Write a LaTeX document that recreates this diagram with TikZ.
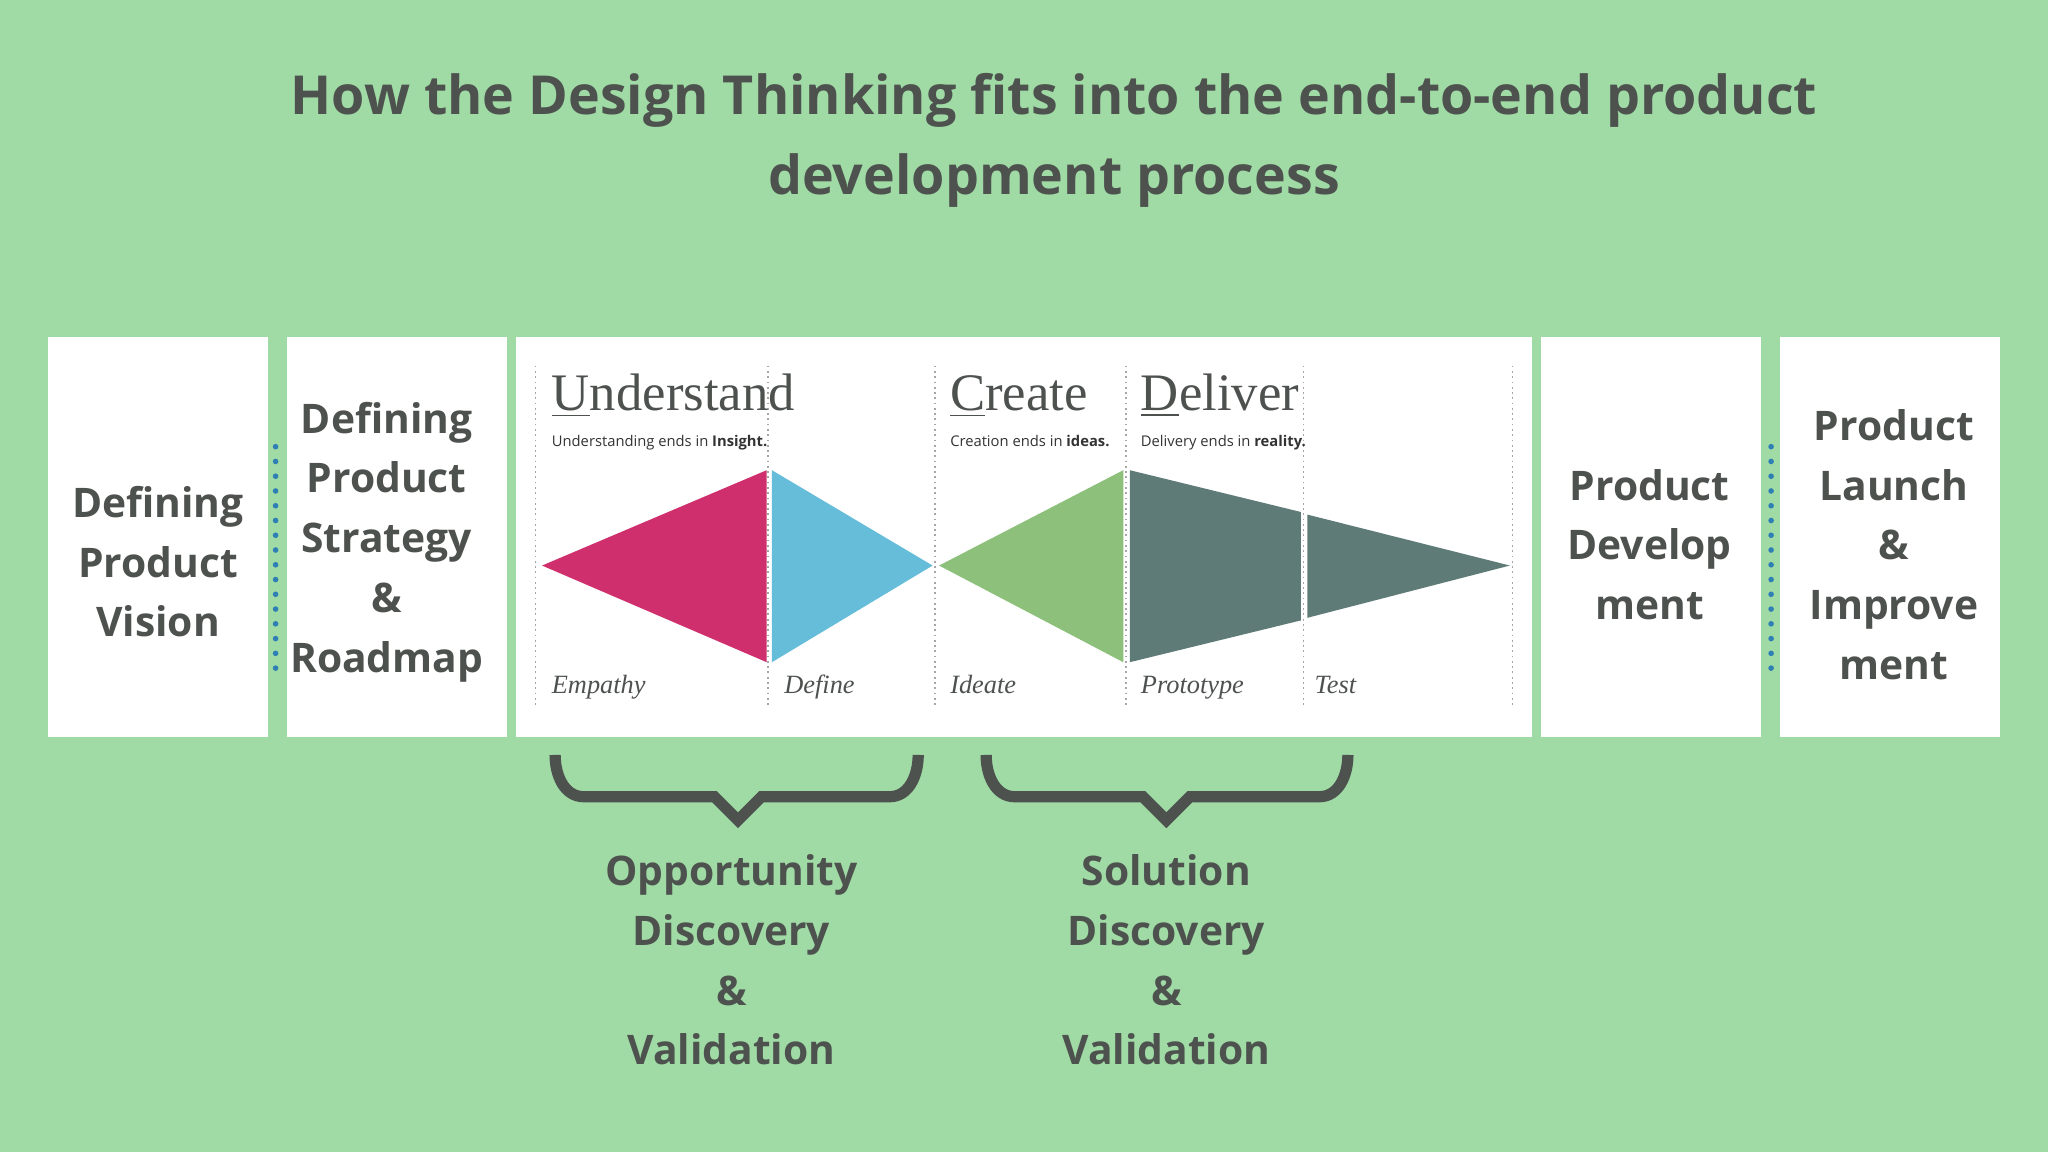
\documentclass[tikz,border=0pt]{standalone}
\usepackage{fontspec}
\setmainfont{Open Sans}
\newfontfamily\serifx{Liberation Serif}
\begin{document}
\begin{tikzpicture}[x=0.013061cm,y=-0.013061cm]
\definecolor{bg}{HTML}{A0DBA6}
\definecolor{tx}{HTML}{4E524F}
\definecolor{mag}{HTML}{CF2F6C}
\definecolor{sky}{HTML}{66BDD9}
\definecolor{grn}{HTML}{8DC07A}
\definecolor{slate}{HTML}{5F7B77}
\definecolor{dblue}{HTML}{2F7FB5}
\tikzset{
 box/.style={fill=white,draw=none},
 boxtxt/.style={text=tx,font=\fontsize{11.6}{17}\selectfont\bfseries,align=center},
 head/.style={text=tx,font=\serifx\fontsize{15}{16}\selectfont,anchor=base west,inner sep=0pt},
 sub/.style={text=black!80,font=\fontsize{4.2}{6}\selectfont,anchor=base west,inner sep=0pt},
 lab/.style={text=tx,font=\serifx\itshape\fontsize{7.5}{9}\selectfont,anchor=base west,inner sep=0pt},
 vdot/.style={gray!70,densely dotted,line width=0.5pt},
 bdot/.style={dblue,line width=1.6pt,line cap=round,dash pattern=on 0pt off 4.2pt},
 brace/.style={tx,line width=3.2pt,line join=miter}
}
\fill[bg] (0,0) rectangle (1568,882);
\node[text=tx,font=\fontsize{15.3}{24}\selectfont\bfseries] (t1) at (807,77) {How the Design Thinking fits into the end-to-end product};
\node[text=tx,font=\fontsize{15.3}{24}\selectfont\bfseries] (t2) at (807,138) {development process};
\fill[box] (37,258) rectangle (205,564);
\fill[box] (220,258) rectangle (388,564);
\fill[box] (395,258) rectangle (1173,564);
\fill[box] (1180,258) rectangle (1348,564);
\fill[box] (1363,258) rectangle (1531,564);
\node[boxtxt] (b1) at (121,430) {Defining\\Product\\Vision};
\node[boxtxt] (b2) at (296,415) {Defining\\Product\\Strategy\\\&\\Roadmap};
\node[boxtxt] (b4) at (1263,417) {Product\\Develop\\ment};
\node[boxtxt] (b5) at (1450,417) {Product\\Launch\\\&\\Improve\\ment};
\draw[bdot] (211,342) -- (211,522);
\draw[bdot] (1356,342) -- (1356,522);
\foreach \x in {410,588,716,862,998,1158} \draw[vdot] (\x,280) -- (\x,542);
\fill[mag] (415,433) -- (587,360) -- (587,507) -- cycle;
\fill[sky] (591,360) -- (714,433) -- (591,507) -- cycle;
\fill[grn] (719,433) -- (860,360) -- (860,507) -- cycle;
\fill[slate] (865,360) -- (996,392) -- (996,475) -- (865,507) -- cycle;
\fill[slate] (1001,394) -- (1156,433) -- (1001,473) -- cycle;
\node[head] (h1) at (422,314) {\underline{U}nderstand};
\node[head] (h2) at (727,314) {\underline{C}reate};
\node[head] (h3) at (873,314) {\underline{D}eliver};
\node[sub] (s1) at (422,342) {Understanding ends in \textbf{Insight.}};
\node[sub] (s2) at (727,342) {Creation ends in \textbf{ideas.}};
\node[sub] (s3) at (873,342) {Delivery ends in \textbf{reality.}};
\node[lab] (l1) at (422,531) {Empathy};
\node[lab] (l2) at (600,531) {Define};
\node[lab] (l3) at (727,531) {Ideate};
\node[lab] (l4) at (873,531) {Prototype};
\node[lab] (l5) at (1006,531) {Test};
\draw[brace] (425,578) to[out=-90,in=180] (447,610) -- (547,610) -- (565,628) -- (583,610) -- (681,610) to[out=0,in=-90] (703,578);
\draw[brace] (755,578) to[out=-90,in=180] (777,610) -- (875,610) -- (893,628) -- (911,610) -- (1010,610) to[out=0,in=-90] (1032,578);
\node[boxtxt] (o1) at (560,735) {Opportunity\\Discovery\\\&\\Validation};
\node[boxtxt] (o2) at (893,735) {Solution\\Discovery\\\&\\Validation};
\end{tikzpicture}
\end{document}
